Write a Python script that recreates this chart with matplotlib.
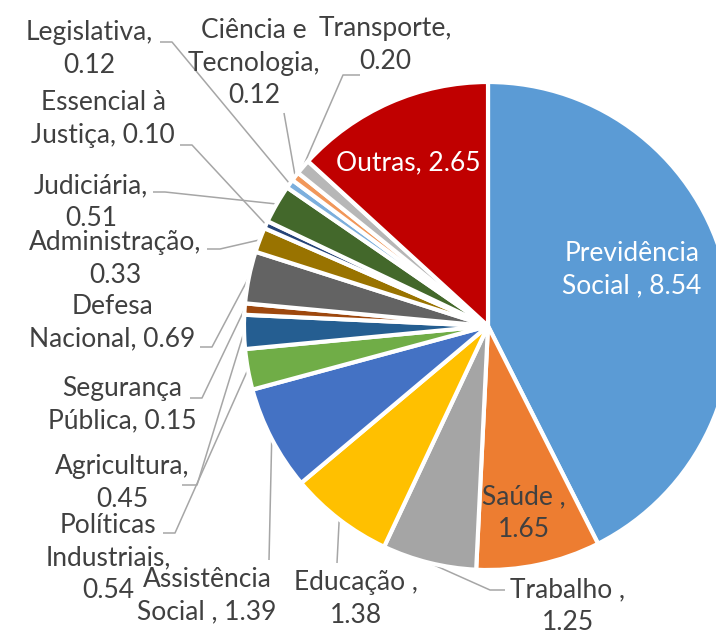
import matplotlib
matplotlib.use("Agg")
import matplotlib.pyplot as plt
import numpy as np

plt.rcParams['font.family'] = ['Lato', 'DejaVu Sans']

categories = ["Previdência\nSocial , 8.54", "Saúde ,\n1.65", "Trabalho ,\n1.25", "Educação ,\n1.38",
              "Assistência\nSocial , 1.39", "Políticas\nIndustriais,\n0.54", "Agricultura,\n0.45",
              "Segurança\nPública, 0.15", "Defesa\nNacional, 0.69", "Administração,\n0.33",
              "Essencial à\nJustiça, 0.10", "Judiciária,\n0.51", "Legislativa,\n0.12",
              "Ciência e\nTecnologia,\n0.12", "Transporte,\n0.20", "Outras, 2.65"]
values = [8.54, 1.65, 1.25, 1.38, 1.39, 0.54, 0.45, 0.15, 0.69, 0.33, 0.10, 0.51, 0.12, 0.12, 0.20, 2.65]
colors = ["#5B9BD5", "#ED7D31", "#A5A5A5", "#FFC000", "#4472C4", "#70AD47", "#255E91", "#9E480E",
          "#636363", "#997300", "#264478", "#43682B", "#7CAFDD", "#F1975A", "#B7B7B7", "#C00000"]

W, H = 716, 639
CX, CY, R = 488, 326, 244

fig = plt.figure(figsize=(W / 100, H / 100), dpi=100)
ax = fig.add_axes([0, 0, 1, 1])
ax.axis('off')


def px(x, y):
    return ((x - CX) / R, (CY - y) / R)


wedges, _ = ax.pie(values, colors=colors, startangle=90, counterclock=False, radius=1.0,
                   wedgeprops=dict(edgecolor='white', linewidth=3))
ax.set_xlim((0 - CX) / R, (W - CX) / R)
ax.set_ylim((CY - H) / R, CY / R)
ax.set_aspect('auto')

# label layout: (center px, text color, leader start px, elbow px or None)
layout = [
    ((632, 270), 'white', None, None),
    ((524, 513), '#404040', None, None),
    ((568, 606), '#404040', (505, 590), (490, 590)),
    ((356, 599), '#404040', (337, 563), None),
    ((207, 596), '#404040', (269, 560), None),
    ((108, 558), '#404040', (163, 533), (175, 533)),
    ((122, 483), '#404040', (182, 485), (197, 485)),
    ((122, 405), '#404040', (190, 398), (202, 398)),
    ((112, 323), '#404040', (200, 347), (212, 347)),
    ((115, 259), '#404040', (207, 249), (220, 249)),
    ((103, 119), '#404040', (180, 145), (192, 145)),
    ((91, 202), '#404040', (153, 192), (165, 192)),
    ((89, 49), '#404040', (160, 42), (172, 42)),
    ((254, 63), '#404040', (284, 113), None),
    ((385, 45), '#404040', (360, 75), (343, 75)),
    ((408, 163), 'white', None, None),
]

for w, lab, (pos, col, start, elbow) in zip(wedges, categories, layout):
    ax.text(*px(*pos), lab, ha='center', va='center', multialignment='center',
            fontsize=19, color=col, linespacing=1.38)
    if start is not None:
        mid = np.deg2rad((w.theta1 + w.theta2) / 2)
        end = (np.cos(mid), np.sin(mid))
        pts = [px(*start)]
        if elbow is not None:
            pts.append(px(*elbow))
        pts.append(end)
        xs, ys = zip(*pts)
        ax.plot(xs, ys, color='#A6A6A6', linewidth=1.1, solid_capstyle='butt', zorder=0.5)

fig.savefig('out.png', dpi=100)
